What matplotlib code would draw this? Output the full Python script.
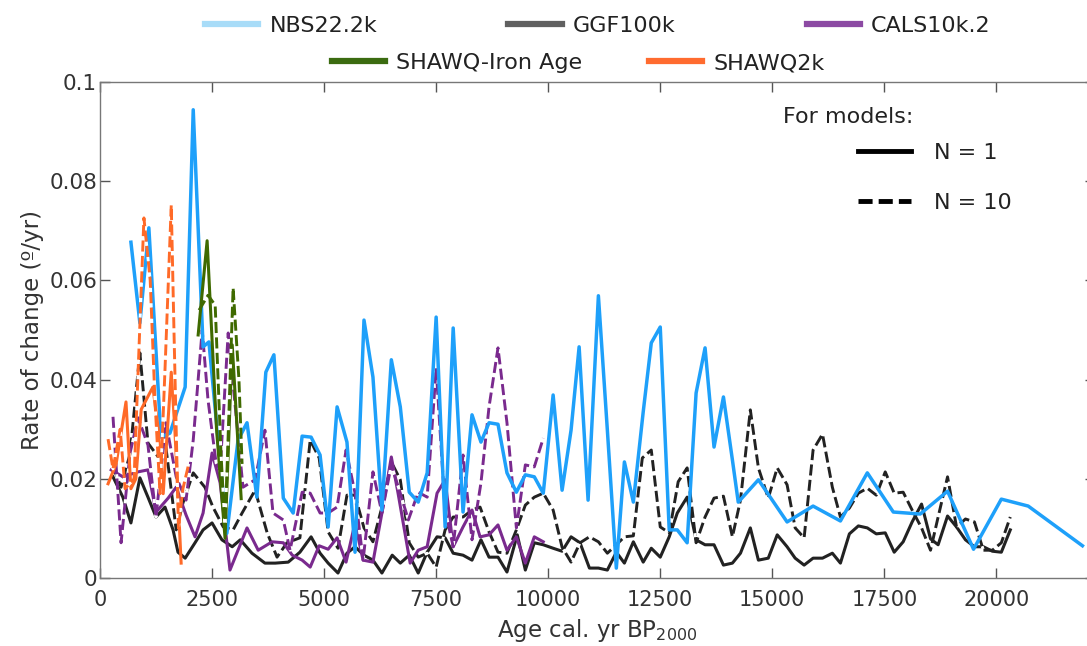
import matplotlib
matplotlib.use('Agg')
import matplotlib.pyplot as plt
from matplotlib.lines import Line2D

plt.rcParams['font.family'] = ['DejaVu Sans']

# NBS22.2k (N = 1)
nbs_age = [690, 890, 1090, 1360, 1560, 1900, 2080, 2300, 2430, 2830, 3080, 3280, 3500, 3700, 3880,
           4090, 4310, 4510, 4710, 4910, 5090, 5290, 5510, 5690, 5890, 6090, 6290, 6500, 6700, 6900,
           7100, 7300, 7500, 7700, 7880, 8100, 8300, 8500, 8680, 8880, 9080, 9290, 9490, 9690, 9890,
           10110, 10310, 10510, 10690, 10890, 11120, 11320, 11520, 11700, 11900, 12120, 12300, 12500,
           12700, 12880, 13100, 13300, 13500, 13700, 13910, 14110, 14240, 14690, 15330, 15910, 16520,
           17120, 17700, 18300, 18910, 19490, 20110, 20710, 21920]
nbs_roc = [0.0677, 0.0514, 0.0706, 0.0284, 0.0292, 0.0385, 0.0944, 0.0466, 0.0476, 0.0090, 0.0278,
           0.0313, 0.0163, 0.0415, 0.0450, 0.0161, 0.0131, 0.0286, 0.0284, 0.0248, 0.0103, 0.0345,
           0.0274, 0.0052, 0.0520, 0.0405, 0.0137, 0.0440, 0.0345, 0.0173, 0.0153, 0.0212, 0.0526,
           0.0103, 0.0504, 0.0133, 0.0329, 0.0274, 0.0313, 0.0310, 0.0212, 0.0173, 0.0208, 0.0204,
           0.0171, 0.0369, 0.0177, 0.0298, 0.0466, 0.0157, 0.0569, 0.0298, 0.0020, 0.0234, 0.0153,
           0.0335, 0.0474, 0.0506, 0.0097, 0.0097, 0.0071, 0.0373, 0.0464, 0.0264, 0.0365, 0.0238,
           0.0153, 0.0198, 0.0113, 0.0145, 0.0115, 0.0212, 0.0133, 0.0129, 0.0175, 0.0058, 0.0159,
           0.0145, 0.0065]

# GGF100k, N = 1 and N = 10
ggf1_age = [290, 510, 690, 890, 1070, 1250, 1450, 1630, 1740, 1900, 2120, 2300, 2500, 2720, 2950,
            3130, 3390, 3680, 3910, 4200, 4460, 4710, 4910, 5090, 5310, 5510, 5690, 5890, 6090, 6290,
            6520, 6700, 6900, 7100, 7300, 7520, 7700, 7880, 8100, 8300, 8500, 8680, 8880, 9080, 9310,
            9490, 9690, 9890, 10110, 10310, 10510, 10710, 10920, 11120, 11320, 11520, 11700, 11900,
            12120, 12300, 12500, 12700, 12880, 13100, 13300, 13500, 13700, 13910, 14110, 14290, 14510,
            14690, 14910, 15110, 15330, 15510, 15710, 15910, 16120, 16340, 16520, 16720, 16920, 17120,
            17320, 17520, 17720, 17920, 18120, 18330, 18530, 18700, 18910, 19110, 19310, 19510, 19710,
            19910, 20110, 20310]
ggf1_roc = [0.0204, 0.0163, 0.0111, 0.0202, 0.0163, 0.0123, 0.0143, 0.0097, 0.0052, 0.0040, 0.0071,
            0.0097, 0.0111, 0.0077, 0.0063, 0.0077, 0.0050, 0.0030, 0.0030, 0.0032, 0.0052, 0.0083,
            0.0050, 0.0030, 0.0010, 0.0050, 0.0063, 0.0046, 0.0036, 0.0010, 0.0046, 0.0030, 0.0046,
            0.0010, 0.0052, 0.0083, 0.0081, 0.0050, 0.0046, 0.0036, 0.0077, 0.0042, 0.0042, 0.0012,
            0.0087, 0.0016, 0.0071, 0.0067, 0.0060, 0.0054, 0.0083, 0.0071, 0.0020, 0.0020, 0.0016,
            0.0052, 0.0030, 0.0073, 0.0032, 0.0060, 0.0042, 0.0083, 0.0131, 0.0163, 0.0077, 0.0067,
            0.0067, 0.0026, 0.0030, 0.0050, 0.0101, 0.0036, 0.0040, 0.0087, 0.0063, 0.0040, 0.0026,
            0.0040, 0.0040, 0.0050, 0.0030, 0.0089, 0.0105, 0.0101, 0.0089, 0.0091, 0.0052, 0.0073,
            0.0113, 0.0149, 0.0079, 0.0067, 0.0125, 0.0103, 0.0077, 0.0063, 0.0063, 0.0054, 0.0052,
            0.0097]
ggf10_age = [290, 470, 670, 890, 1070, 1300, 1470, 1700, 1850, 2080, 2340, 2520, 2750, 2970, 3170,
             3460, 3730, 3950, 4170, 4460, 4690, 4890, 5090, 5310, 5510, 5690, 5890, 6090, 6290, 6500,
             6700, 6900, 7100, 7300, 7500, 7700, 7880, 8100, 8300, 8480, 8680, 8880, 9080, 9290, 9490,
             9690, 9890, 10110, 10310, 10510, 10710, 10920, 11120, 11320, 11520, 11700, 11900, 12100,
             12300, 12500, 12700, 12900, 13100, 13300, 13500, 13700, 13910, 14110, 14290, 14510, 14690,
             14910, 15110, 15330, 15510, 15710, 15910, 16120, 16340, 16520, 16720, 16920, 17120, 17320,
             17520, 17720, 17920, 18120, 18330, 18530, 18700, 18910, 19110, 19310, 19510, 19710, 19910,
             20110, 20310]
ggf10_roc = [0.0224, 0.0183, 0.0250, 0.0454, 0.0272, 0.0244, 0.0264, 0.0097, 0.0151, 0.0212, 0.0183,
             0.0143, 0.0103, 0.0097, 0.0131, 0.0177, 0.0091, 0.0042, 0.0071, 0.0081, 0.0278, 0.0242,
             0.0093, 0.0060, 0.0167, 0.0167, 0.0101, 0.0073, 0.0143, 0.0234, 0.0198, 0.0071, 0.0042,
             0.0050, 0.0022, 0.0097, 0.0123, 0.0123, 0.0137, 0.0143, 0.0093, 0.0052, 0.0050, 0.0097,
             0.0147, 0.0163, 0.0171, 0.0137, 0.0062, 0.0032, 0.0071, 0.0083, 0.0073, 0.0050, 0.0067,
             0.0083, 0.0085, 0.0242, 0.0258, 0.0103, 0.0091, 0.0194, 0.0222, 0.0071, 0.0123, 0.0161,
             0.0165, 0.0083, 0.0157, 0.0339, 0.0222, 0.0161, 0.0222, 0.0188, 0.0101, 0.0081, 0.0258,
             0.0290, 0.0183, 0.0123, 0.0141, 0.0171, 0.0181, 0.0167, 0.0214, 0.0171, 0.0173, 0.0137,
             0.0101, 0.0056, 0.0123, 0.0204, 0.0103, 0.0119, 0.0113, 0.0056, 0.0056, 0.0071, 0.0123]

# CALS10k.2, N = 1 and N = 10
cals1_age = [250, 510, 850, 1070, 1250, 1520, 1700, 1920, 2120, 2300, 2500, 2680, 2900, 3280, 3530,
             3840, 4090, 4290, 4510, 4690, 4890, 5090, 5290, 5490, 5690, 5870, 6090, 6290, 6500, 6650,
             6920, 7100, 7300, 7520, 7700, 7880, 8100, 8300, 8480, 8680, 8880, 9080, 9290, 9490, 9690,
             9890]
cals1_roc = [0.0218, 0.0204, 0.0214, 0.0218, 0.0133, 0.0161, 0.0183, 0.0127, 0.0083, 0.0131, 0.0252,
             0.0192, 0.0016, 0.0101, 0.0056, 0.0073, 0.0071, 0.0046, 0.0036, 0.0022, 0.0065, 0.0058,
             0.0081, 0.0032, 0.0111, 0.0036, 0.0032, 0.0131, 0.0244, 0.0171, 0.0030, 0.0056, 0.0063,
             0.0171, 0.0198, 0.0063, 0.0103, 0.0137, 0.0083, 0.0087, 0.0107, 0.0056, 0.0083, 0.0030,
             0.0083, 0.0073]
cals10_age = [290, 470, 670, 850, 1070, 1250, 1470, 1700, 1920, 2080, 2280, 2410, 2590, 2680, 2860,
              3190, 3460, 3680, 3860, 4090, 4240, 4510, 4690, 4910, 5090, 5290, 5490, 5690, 5870, 6090,
              6290, 6500, 6700, 6880, 7100, 7300, 7500, 7700, 7880, 8100, 8300, 8500, 8680, 8880, 9080,
              9290, 9490, 9690, 9890]
cals10_roc = [0.0325, 0.0071, 0.0252, 0.0323, 0.0268, 0.0123, 0.0313, 0.0204, 0.0157, 0.0278, 0.0500,
              0.0359, 0.0232, 0.0218, 0.0494, 0.0183, 0.0198, 0.0298, 0.0131, 0.0117, 0.0056, 0.0173,
              0.0171, 0.0131, 0.0131, 0.0143, 0.0258, 0.0171, 0.0036, 0.0214, 0.0131, 0.0228, 0.0171,
              0.0117, 0.0173, 0.0163, 0.0423, 0.0137, 0.0063, 0.0248, 0.0077, 0.0192, 0.0345, 0.0464,
              0.0313, 0.0101, 0.0228, 0.0224, 0.0282]

# SHAWQ-Iron Age, N = 1 and N = 10
iron1_age = [2190, 2390, 2600, 2790, 2950, 3150]
iron1_roc = [0.049, 0.068, 0.030, 0.008, 0.047, 0.016]
iron10_age = [2210, 2410, 2570, 2700, 2790, 2970, 3100, 3170]
iron10_roc = [0.054, 0.057, 0.055, 0.025, 0.010, 0.0585, 0.040, 0.023]

# SHAWQ2k, N = 1 and N = 10
q2k1_age = [180, 360, 580, 690, 800, 920, 1180, 1300, 1410, 1590, 1670, 1810]
q2k1_roc = [0.019, 0.023, 0.0355, 0.018, 0.020, 0.034, 0.0385, 0.030, 0.017, 0.0415, 0.030, 0.003]
q2k10_age = [180, 290, 450, 560, 760, 980, 1120, 1230, 1340, 1450, 1590, 1650, 1750, 1850, 1980]
q2k10_roc = [0.028, 0.022, 0.030, 0.018, 0.020, 0.0726, 0.060, 0.035, 0.017, 0.042, 0.0752, 0.050,
             0.010, 0.018, 0.023]

c_nbs = '#1ea0fa'
c_ggf = '#222222'
c_cals = '#7a2a8e'
c_iron = '#3f6a00'
c_q2k = '#ff6a28'

lw1 = 2.2
lw10 = 2.1
dash = (0, (3.8, 1.5))

fig = plt.figure(figsize=(10.87, 6.46), dpi=100)
ax = fig.add_axes([100 / 1087, 68 / 646, 995 / 1087, 496 / 646])

ax.plot(ggf1_age, ggf1_roc, color=c_ggf, lw=lw1)
ax.plot(ggf10_age, ggf10_roc, color=c_ggf, lw=lw10, ls=dash, gapcolor='white')
ax.plot(cals1_age, cals1_roc, color=c_cals, lw=lw1)
ax.plot(cals10_age, cals10_roc, color=c_cals, lw=lw10, ls=dash, gapcolor='white')
ax.plot(nbs_age, nbs_roc, color=c_nbs, lw=lw1 + 0.3)
ax.plot(q2k1_age, q2k1_roc, color=c_q2k, lw=lw1)
ax.plot(q2k10_age, q2k10_roc, color=c_q2k, lw=lw10, ls=dash, gapcolor='white')
ax.plot(iron1_age, iron1_roc, color=c_iron, lw=lw1)
ax.plot(iron10_age, iron10_roc, color=c_iron, lw=lw10, ls=dash, gapcolor='white')

ax.set_xlim(0, 22200)
ax.set_ylim(0, 0.1)
ax.set_xticks([0, 2500, 5000, 7500, 10000, 12500, 15000, 17500, 20000])
ax.set_yticks([0, 0.02, 0.04, 0.06, 0.08, 0.1])
ax.set_yticklabels(['0', '0.02', '0.04', '0.06', '0.08', '0.1'])
ax.tick_params(axis='both', direction='in', length=7.5, width=1, color='#555555',
               labelsize=15, labelcolor='#333333', top=True, right=True)
ax.tick_params(axis='x', pad=9)
ax.tick_params(axis='y', pad=2, labelsize=15.5)
for s in ax.spines.values():
    s.set_color('#777777')
    s.set_linewidth(1)

ax.set_xlabel('Age cal. yr BP$_{2000}$', fontsize=16.5, color='#333333', labelpad=5)
ax.set_ylabel('Rate of change (º/yr)', fontsize=16.5, color='#333333', labelpad=4)

# model legend (two rows)
row1 = [Line2D([], [], color='#a8dcf8', lw=4.5),
        Line2D([], [], color='#606060', lw=4.5),
        Line2D([], [], color='#8c4aa3', lw=4.5)]
row2 = [Line2D([], [], color='#3b6b10', lw=4.5),
        Line2D([], [], color='#ff6b2f', lw=4.5)]
fig.legend(row1, ['NBS22.2k', 'GGF100k', 'CALS10k.2'], loc='center',
           bbox_to_anchor=(598 / 1087, 1 - 26 / 646), ncol=3, frameon=False, fontsize=16,
           handlelength=2.4, handletextpad=0.5, columnspacing=5.9, labelcolor='#222222')
fig.legend(row2, ['SHAWQ-Iron Age', 'SHAWQ2k'], loc='center',
           bbox_to_anchor=(578 / 1087, 1 - 63 / 646), ncol=2, frameon=False, fontsize=16,
           handlelength=2.4, handletextpad=0.5, columnspacing=3.0, labelcolor='#222222')

# N = 1 / N = 10 key
fig.text(783 / 1087, 1 - 117 / 646, 'For models:', fontsize=16, color='#222222', va='center')
nkey = [Line2D([], [], color='black', lw=3.5),
        Line2D([], [], color='black', lw=3.5, ls=(0, (2.9, 1.25)))]
fig.legend(nkey, ['N = 1', 'N = 10'], loc='upper left', bbox_to_anchor=(858 / 1087, 1 - 143 / 646),
           frameon=False, fontsize=16, handlelength=2.4, handletextpad=1.0, labelspacing=1.35,
           borderpad=0, borderaxespad=0, labelcolor='#222222')

fig.savefig('out.png', dpi=100)
